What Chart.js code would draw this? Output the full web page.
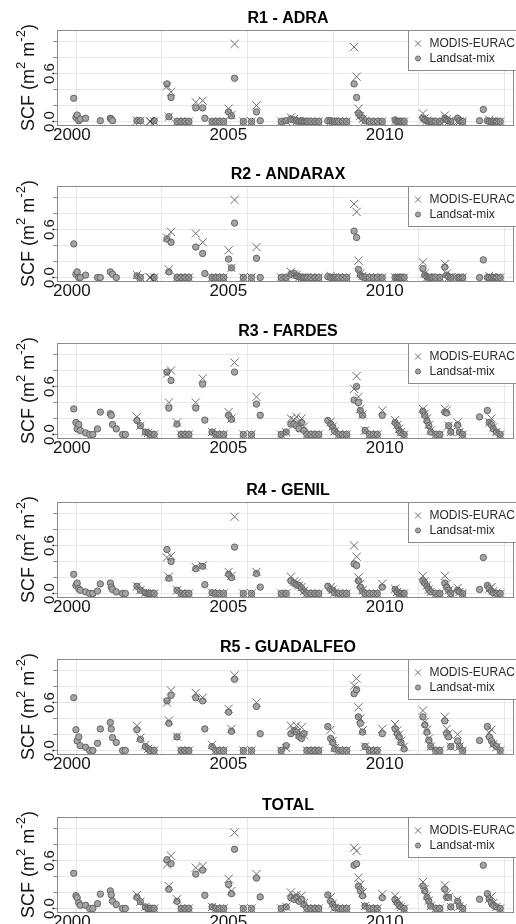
<!DOCTYPE html>
<html><head><meta charset="utf-8">
<script src="https://cdn.jsdelivr.net/npm/chart.js@4.4.1/dist/chart.umd.min.js"></script>
<style>
html,body{margin:0;padding:0;background:#fff;overflow:hidden;width:516px;height:924px;position:relative;}
.panel{position:absolute;left:0;width:520px;height:157px;}
canvas{display:block;}
</style></head><body>
<script>
// ---------- DATA ----------
const dates = [
2000.06,2000.13,2000.17,2000.22,2000.27,2000.44,2000.57,2000.67,2000.82,2000.91,
2001.23,2001.26,2001.30,2001.42,2001.62,2001.71,2002.08,2002.19,2002.35,2002.44,
2002.50,2002.63,2003.04,2003.10,2003.17,2003.36,2003.49,2003.61,2003.74,2003.96,
2004.18,2004.25,2004.48,2004.60,2004.72,2004.85,2005.01,2005.10,2005.20,2005.48,
2005.74,2005.90,2006.02,2006.69,2006.85,2007.00,2007.10,2007.18,2007.26,2007.34,
2007.42,2007.51,2007.64,2007.77,2007.89,2008.18,2008.27,2008.34,2008.40,2008.53,
2008.65,2008.78,2009.02,2009.10,2009.16,2009.22,2009.29,2009.37,2009.51,2009.64,
2009.76,2009.92,2010.33,2010.40,2010.46,2010.52,2010.62,2011.22,2011.28,2011.35,
2011.41,2011.47,2011.63,2011.76,2011.92,2011.98,2012.04,2012.11,2012.33,2012.39,
2012.49,2013.03,2013.15,2013.28,2013.34,2013.41,2013.47,2013.57,2013.69];

const regionTitles = ['R1 - ADRA','R2 - ANDARAX','R3 - FARDES','R4 - GENIL','R5 - GUADALFEO','TOTAL'];
const seriesNames = ['MODIS-EURAC','Landsat-mix'];
const xTickValues = [2000, 2005, 2010];
const yGridValues = [0, 0.2, 0.4, 0.6, 0.8, 1.0];
const yLabelValues = [0, 0.6];
const gridDays = [11000, 12000, 13000, 14000, 15000, 16000];

const landsatR1 = [
0.29,0.05,0.08,0.01,0.03,0.04,null,null,null,0.01,
0.04,0.03,0.01,null,null,null,0.01,0.01,null,null,
null,0.01,0.47,0.06,0.30,0.0,0.0,0.0,0.0,0.17,
0.17,0.04,0.0,0.0,0.0,0.0,0.12,0.07,0.54,0.0,
0.0,0.12,0.01,0.0,0.01,0.03,0.02,0.01,0.0,0.01,
0.0,0.0,0.0,0.0,0.0,0.01,0.01,0.0,0.0,0.0,
0.0,0.0,0.47,0.30,0.10,0.07,0.04,0.01,0.0,0.0,
0.0,0.0,0.02,0.0,0.0,0.0,0.0,0.04,0.02,0.01,
0.0,0.0,0.0,0.0,0.04,0.02,0.01,0.0,0.04,0.01,
0.0,0.01,0.15,0.01,0.0,0.0,0.0,0.0,0.0];
const modisR1 = [
null,null,null,null,null,null,null,null,null,null,
null,null,null,null,null,null,0.01,0.01,null,null,
0.0,0.0,0.44,0.06,0.37,0.0,0.0,0.0,0.0,0.24,
0.26,null,0.0,0.0,0.0,0.0,0.16,0.08,0.97,0.0,
0.0,0.20,null,0.0,0.0,0.05,0.03,0.0,0.0,0.0,
0.0,0.0,0.0,0.0,0.0,null,0.0,0.0,0.0,0.0,
0.0,0.0,0.93,0.56,0.16,0.07,0.03,0.01,0.0,0.0,
0.0,0.0,0.0,0.0,0.0,0.0,0.0,0.10,0.04,0.01,
0.0,0.0,0.0,0.0,0.075,0.03,0.0,0.0,0.0,0.0,
0.0,null,null,null,0.02,0.0,0.0,0.0,0.0];

const landsatR2 = [
0.42,0.04,0.07,0.0,0.0,0.03,null,null,0.0,0.0,
0.07,null,0.04,0.0,null,null,0.02,0.0,null,null,
null,0.0,0.48,0.07,0.44,0.0,0.0,0.0,0.0,0.38,
0.30,0.05,0.0,0.0,0.0,0.0,0.23,0.12,0.68,0.0,
0.0,0.24,0.0,0.0,0.0,0.04,0.05,0.02,0.01,0.0,
0.0,0.0,0.0,0.0,0.0,0.01,0.0,0.0,0.0,0.0,
0.0,0.0,0.58,0.50,0.10,0.03,0.01,0.0,0.0,0.0,
0.0,0.0,0.0,0.0,0.0,0.0,0.0,0.11,0.03,0.01,
0.0,0.0,0.0,0.0,0.13,0.03,0.01,0.0,0.0,0.0,
0.0,0.0,0.22,0.0,0.0,0.0,0.0,0.0,0.0];
const modisR2 = [
null,null,null,null,null,null,null,null,null,null,
null,null,null,null,null,null,0.03,0.0,null,null,
0.0,0.0,0.50,0.10,0.57,0.0,0.0,0.0,0.0,0.55,
0.44,null,0.0,0.0,0.0,0.0,0.34,0.12,0.97,0.0,
0.0,0.38,null,0.0,0.0,0.07,0.04,0.03,0.0,0.0,
0.0,0.0,0.0,0.0,0.0,null,0.02,0.0,0.0,0.0,
0.0,0.0,0.92,0.82,0.21,0.05,0.02,0.0,0.0,0.0,
0.0,0.0,0.0,0.0,0.0,0.0,0.0,0.19,0.05,0.0,
0.0,0.0,0.0,0.0,0.17,0.05,0.0,0.0,0.0,0.0,
0.0,null,null,null,0.02,0.0,0.0,0.0,0.0];

const landsatR3 = [
0.32,0.15,0.07,0.125,0.05,0.02,0.0,0.0,0.07,0.28,
0.26,0.24,0.125,0.07,0.0,0.0,0.175,0.11,0.03,0.02,
0.0,0.0,0.78,0.33,0.675,0.13,0.0,0.0,0.0,0.33,
0.63,0.18,0.03,0.0,0.0,0.0,0.24,0.19,0.78,0.0,
0.0,0.38,0.24,0.0,0.03,0.13,0.13,0.11,0.07,0.15,
0.05,0.0,0.0,0.0,0.0,0.175,0.13,0.09,0.04,0.0,
0.0,0.0,0.43,0.60,0.40,0.30,0.24,0.05,0.0,0.0,
0.0,0.24,0.15,0.11,0.05,0.02,0.0,0.29,0.24,0.17,
0.11,0.03,0.0,0.0,0.28,0.27,0.11,0.03,0.12,0.03,
0.0,0.22,null,0.30,0.15,0.12,0.07,0.03,0.0];
const modisR3 = [
null,null,null,null,null,null,null,null,null,null,
null,null,null,null,null,null,0.22,0.11,0.03,0.02,
0.0,0.0,0.76,0.40,0.80,0.15,0.0,0.0,0.0,0.40,
0.70,null,0.03,0.0,0.0,0.0,0.28,0.20,0.90,0.0,
0.0,0.47,null,0.0,0.03,0.20,0.18,0.22,0.15,0.20,
0.10,0.0,0.0,0.0,0.0,null,0.16,0.10,0.04,0.0,
0.0,0.0,0.57,0.73,0.47,0.32,0.25,0.05,0.0,0.0,
0.0,0.30,0.18,0.12,0.07,0.03,0.0,0.32,0.26,0.20,
0.12,0.05,0.0,0.0,0.32,0.30,0.11,0.03,0.15,0.03,
0.0,null,null,null,0.15,0.20,0.09,0.03,0.0];

const landsatR4 = [
0.24,0.10,0.13,0.06,0.04,0.02,0.0,0.0,0.03,0.12,
0.13,0.08,0.05,0.02,0.0,0.0,0.09,0.04,0.01,0.0,
0.0,0.0,0.55,0.19,0.40,0.04,0.0,0.0,0.0,0.31,
0.34,0.11,0.01,0.0,0.0,0.0,0.24,0.20,0.58,0.0,
0.0,0.25,0.08,0.0,0.0,0.16,0.13,0.11,0.10,0.07,
0.03,0.0,0.0,0.0,0.0,0.09,0.05,0.04,0.01,0.0,
0.0,0.0,0.37,0.35,0.16,0.08,0.03,0.0,0.0,0.0,
0.0,0.08,0.05,0.02,0.0,0.0,0.0,0.16,0.13,0.09,
0.05,0.02,0.0,0.0,0.13,0.08,0.04,0.0,0.04,0.02,
0.0,0.05,0.45,0.10,0.06,0.03,0.01,0.0,0.0];
const modisR4 = [
null,null,null,null,null,null,null,null,null,null,
null,null,null,null,null,null,0.09,0.04,0.01,0.0,
0.0,0.0,0.45,0.21,0.47,0.04,0.0,0.0,0.0,0.33,
0.35,null,0.01,0.0,0.0,0.0,0.27,0.22,0.96,0.0,
0.0,0.27,null,0.0,0.0,0.21,0.15,0.13,0.10,0.08,
0.03,0.0,0.0,0.0,0.0,null,0.08,0.05,0.01,0.0,
0.0,0.0,0.60,0.46,0.20,0.12,0.04,0.0,0.0,0.0,
0.0,0.12,0.06,0.02,0.0,0.0,0.0,0.22,0.15,0.10,
0.05,0.02,0.0,0.0,0.22,0.12,0.04,0.0,0.07,0.02,
0.0,null,null,null,0.06,0.08,0.03,0.01,0.0];

const landsatR5 = [
0.66,0.26,0.12,0.17,0.06,0.04,0.0,0.0,0.09,0.27,
0.35,0.27,0.16,0.10,0.0,0.0,0.26,0.14,0.05,0.02,
0.0,0.0,0.62,0.34,0.69,0.17,0.0,0.0,0.0,0.66,
0.62,0.27,0.05,0.0,0.0,0.0,0.48,0.24,0.89,0.0,
0.0,0.55,0.21,0.0,0.06,0.21,0.25,0.23,0.175,0.15,
0.21,0.0,0.0,0.0,0.0,0.30,0.15,0.10,0.02,0.0,
0.0,0.0,0.71,0.76,0.42,0.34,0.23,0.05,0.0,0.0,
0.0,0.21,0.27,0.21,0.17,0.10,0.02,0.42,0.32,0.23,
0.13,0.05,0.0,0.0,0.37,0.21,0.17,0.05,0.12,0.05,
0.0,0.125,null,0.30,0.17,0.12,0.08,0.05,0.0];
const modisR5 = [
null,null,null,null,null,null,null,null,null,null,
null,null,null,null,null,null,0.31,0.16,0.07,0.02,
0.0,0.0,0.60,0.375,0.75,0.175,0.0,0.0,0.0,0.72,
0.66,null,0.07,0.0,0.0,0.0,0.52,0.27,0.94,0.0,
0.0,0.60,null,0.0,0.03,0.31,0.25,0.31,0.20,0.29,
0.19,0.0,0.0,0.0,0.0,null,0.26,0.12,0.03,0.0,
0.0,0.0,0.81,0.90,0.54,0.40,0.25,0.05,0.0,0.0,
0.0,0.27,0.33,0.25,0.20,0.12,0.05,0.50,0.36,0.26,
0.15,0.05,0.0,0.0,0.42,0.27,0.21,0.05,0.20,0.05,
0.0,null,null,null,0.22,0.26,0.08,0.04,0.0];

const landsatTotal = [
0.44,0.16,0.135,0.07,0.04,0.04,0.0,0.0,0.06,0.18,
0.22,0.17,0.09,0.05,0.0,0.0,0.14,0.085,0.02,0.0,
0.0,0.0,0.61,0.24,0.56,0.09,0.0,0.0,0.0,0.43,
0.48,0.165,0.02,0.0,0.0,0.0,0.30,0.185,0.74,0.0,
0.0,0.38,0.145,0.0,0.02,0.135,0.115,0.14,0.09,0.115,
0.05,0.0,0.0,0.0,0.0,0.17,0.09,0.05,0.01,0.0,
0.0,0.0,0.54,0.56,0.28,0.22,0.16,0.03,0.0,0.0,
0.0,0.135,0.11,0.07,0.04,0.02,0.0,0.28,0.22,0.14,
0.09,0.03,0.0,0.0,0.24,0.14,0.14,0.02,0.09,0.03,
0.0,0.115,0.54,0.185,0.12,0.07,0.04,0.02,0.0];
const modisTotal = [
null,null,null,null,null,null,null,null,null,null,
null,null,null,null,null,null,0.17,0.085,0.02,0.0,
0.0,0.0,0.55,0.28,0.66,0.115,0.0,0.0,0.0,0.51,
0.53,null,0.02,0.0,0.0,0.0,0.37,0.22,0.95,0.0,
0.0,0.43,null,0.0,0.02,0.20,0.15,0.17,0.13,0.16,
0.07,0.0,0.0,0.0,0.0,null,0.14,0.06,0.01,0.0,
0.0,0.0,0.76,0.72,0.385,0.30,0.20,0.03,0.0,0.0,
0.0,0.18,0.16,0.10,0.04,0.02,0.0,0.33,0.24,0.16,
0.10,0.03,0.0,0.0,0.29,0.18,0.14,0.02,0.11,0.03,
0.0,null,null,null,0.12,0.15,0.07,0.02,0.0];

const landsatSeries = [landsatR1, landsatR2, landsatR3, landsatR4, landsatR5, landsatTotal];
const modisSeries = [modisR1, modisR2, modisR3, modisR4, modisR5, modisTotal];

// ---------- RENDERING ----------
const FONT = '"Liberation Sans", Arial, Helvetica, sans-serif';
const plotTops = [30, 186, 343, 502, 659, 817];
const CANVAS_W = 520, CANVAS_H = 157, TOP_PAD = 30, PLOT_H = 95;
const GRID_COL = '#e8e8e8', BOX_COL = '#8c8c8c', TXT = '#151515';
const CIRC_FILL = '#a4a4a4', CIRC_EDGE = '#5c5c5c', CROSS_COL = '#6e6e6e';

function dayToYear(d) {
  const dt = new Date(d * 86400000);
  const y = dt.getUTCFullYear();
  const s = Date.UTC(y, 0, 1), e = Date.UTC(y + 1, 0, 1);
  return y + (dt.getTime() - s) / (e - s);
}
function toPts(vals) {
  const out = [];
  vals.forEach((v, i) => { if (v !== null) out.push({x: dates[i], y: v, i: i}); });
  return out;
}

const decor = {
  id: 'decor',
  beforeDraw(chart) {
    const c = chart.ctx;
    c.save(); c.fillStyle = '#fff'; c.fillRect(0, 0, chart.width, chart.height); c.restore();
  },
  beforeDatasetsDraw(chart) {
    const c = chart.ctx, a = chart.chartArea, xs = chart.scales.x;
    c.save();
    c.strokeStyle = GRID_COL; c.lineWidth = 1;
    gridDays.forEach(d => {
      const px = Math.round(xs.getPixelForValue(dayToYear(d))) + 0.5;
      if (px > a.left && px < a.right) {
        c.beginPath(); c.moveTo(px, a.top); c.lineTo(px, a.bottom); c.stroke();
      }
    });
    c.restore();
  },
  afterDatasetsDraw(chart, args, opts) {
    const c = chart.ctx, a = chart.chartArea;
    c.save();
    // plot box
    c.strokeStyle = BOX_COL; c.lineWidth = 1;
    c.strokeRect(Math.round(a.left) + 0.5, Math.round(a.top) + 0.5, Math.round(a.right - a.left), Math.round(a.bottom - a.top));
    // legend
    const lx = Math.round(a.right - 105) + 0.5, ly = Math.round(a.top) + 0.5, lh = 40;
    c.fillStyle = '#fff'; c.fillRect(lx, ly, 200, lh);
    c.strokeRect(lx, ly, 200, lh);
    const mx = lx + 9.5;
    // cross
    c.strokeStyle = CROSS_COL; c.lineWidth = 1;
    const r = 3;
    const y1 = ly + 13;
    c.beginPath(); c.moveTo(mx - r, y1 - r); c.lineTo(mx + r, y1 + r); c.moveTo(mx - r, y1 + r); c.lineTo(mx + r, y1 - r); c.stroke();
    // circle
    const y2 = ly + 28;
    c.beginPath(); c.arc(mx, y2, 2.6, 0, Math.PI * 2); c.fillStyle = CIRC_FILL; c.fill();
    c.strokeStyle = CIRC_EDGE; c.lineWidth = 0.8; c.stroke();
    c.fillStyle = '#2a2a2a'; c.font = '12px ' + FONT; c.textAlign = 'left'; c.textBaseline = 'middle';
    c.fillText(seriesNames[0], lx + 21, y1 + 0.5);
    c.fillText(seriesNames[1], lx + 21, y2 + 0.5);
    c.restore();
  },
  afterDraw(chart, args, opts) {
    const c = chart.ctx, a = chart.chartArea, ys = chart.scales.y;
    c.save();
    // title
    c.fillStyle = '#000'; c.font = 'bold 16px ' + FONT; c.textAlign = 'center'; c.textBaseline = 'alphabetic';
    c.fillText(opts.title, 288, a.top - 7.3);
    // y tick labels (rotated, parallel to axis)
    c.fillStyle = TXT; c.font = '15px ' + FONT;
    yLabelValues.forEach(v => {
      const py = ys.getPixelForValue(v);
      c.save(); c.translate(53.5, py); c.rotate(-Math.PI / 2);
      c.textAlign = 'center'; c.textBaseline = 'alphabetic';
      c.fillText(v.toFixed(1), 0, 0); c.restore();
    });
    // y axis title with superscripts
    const segs = [
      {t: 'SCF (m', s: 18, dy: 0}, {t: '2', s: 13, dy: -9},
      {t: ' m', s: 18, dy: 0}, {t: '-2', s: 13, dy: -9}, {t: ')', s: 18, dy: 0}];
    let total = 0;
    segs.forEach(g => { c.font = g.s + 'px ' + FONT; g.w = c.measureText(g.t).width; total += g.w; });
    c.translate(33.5, (a.top + a.bottom) / 2); c.rotate(-Math.PI / 2);
    c.textAlign = 'left'; c.textBaseline = 'alphabetic';
    let x = -total / 2;
    segs.forEach(g => { c.font = g.s + 'px ' + FONT; c.fillText(g.t, x, g.dy); x += g.w; });
    c.restore();
  }
};

plotTops.forEach((top, k) => {
  const div = document.createElement('div');
  div.className = 'panel';
  div.style.top = (top - TOP_PAD) + 'px';
  const cv = document.createElement('canvas');
  cv.width = CANVAS_W; cv.height = CANVAS_H;
  cv.style.width = CANVAS_W + 'px'; cv.style.height = CANVAS_H + 'px';
  div.appendChild(cv); document.body.appendChild(div);
  const landsat = landsatSeries[k], modis = modisSeries[k];
  new Chart(cv.getContext('2d'), {
    type: 'scatter',
    data: {datasets: [
      {label: seriesNames[0], data: toPts(modis), pointStyle: 'crossRot', pointRadius: 5.8, pointHoverRadius: 5.8,
       pointBorderWidth: 1, pointBackgroundColor: 'rgba(0,0,0,0)',
       pointBorderColor: (ctx) => (ctx.raw && landsat[ctx.raw.i] === null) ? '#111' : CROSS_COL},
      {label: seriesNames[1], data: toPts(landsat), pointStyle: 'circle', pointRadius: 3.2, pointHoverRadius: 3.2,
       pointBorderWidth: 0.9, pointBackgroundColor: CIRC_FILL, pointBorderColor: CIRC_EDGE}
    ]},
    options: {
      responsive: false, animation: false, devicePixelRatio: 1, events: [],
      layout: {padding: {top: TOP_PAD, right: 3, left: 0, bottom: 0}},
      plugins: {legend: {display: false}, tooltip: {enabled: false}, title: {display: false},
                decor: {title: regionTitles[k]}},
      scales: {
        x: {type: 'linear', min: 1999.525, max: 2014.105,
            afterBuildTicks: s => { s.ticks = xTickValues.map(v => ({value: v})); },
            afterFit: s => { s.height = CANVAS_H - TOP_PAD - PLOT_H; },
            grid: {display: false, drawTicks: false}, border: {display: false},
            ticks: {font: {family: FONT, size: 17}, color: TXT, padding: 0, maxRotation: 0, minRotation: 0, autoSkip: false,
                    callback: v => String(v)}},
        y: {type: 'linear', min: -0.044, max: 1.144,
            afterBuildTicks: s => { s.ticks = yGridValues.map(v => ({value: v})); },
            afterFit: s => { s.width = 57; },
            grid: {color: GRID_COL, lineWidth: 1, drawTicks: true, tickLength: 4, tickColor: BOX_COL},
            border: {display: false},
            ticks: {display: false}}
      }
    },
    plugins: [decor]
  });
});
</script>
</body></html>
